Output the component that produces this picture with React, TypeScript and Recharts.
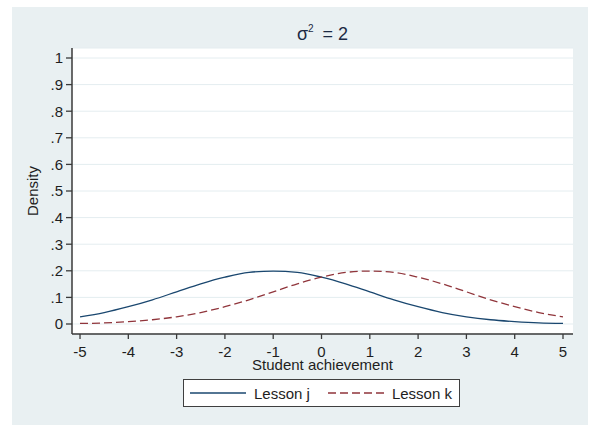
import React from 'react';
import { LineChart, Line, XAxis, YAxis, CartesianGrid, Legend } from 'recharts';

// Student achievement grid (x) and the two density curves
const achievement = [-5, -4.5, -4, -3.5, -3, -2.5, -2, -1.5, -1, -0.5, 0, 0.5, 1, 1.5, 2, 2.5, 3, 3.5, 4, 4.5, 5];
const lessonJ = [0.027, 0.043, 0.065, 0.091, 0.121, 0.151, 0.176, 0.194, 0.199, 0.194, 0.176, 0.151, 0.121, 0.091, 0.065, 0.043, 0.027, 0.016, 0.009, 0.004, 0.002];
const lessonK = [0.002, 0.004, 0.009, 0.016, 0.027, 0.043, 0.065, 0.091, 0.121, 0.151, 0.176, 0.194, 0.199, 0.194, 0.176, 0.151, 0.121, 0.091, 0.065, 0.043, 0.027];

const xTicks = [-5, -4, -3, -2, -1, 0, 1, 2, 3, 4, 5];
const yTicks = [0, 0.1, 0.2, 0.3, 0.4, 0.5, 0.6, 0.7, 0.8, 0.9, 1];
const yTickLabels = ['0', '.1', '.2', '.3', '.4', '.5', '.6', '.7', '.8', '.9', '1'];

const seriesNames = ['Lesson j', 'Lesson k'];
const seriesColors = ['#1a476f', '#90353b'];

const data = achievement.map((x, i) => ({ x, j: lessonJ[i], k: lessonK[i] }));

const FONT = '"Liberation Sans", Arial, Helvetica, sans-serif';
const AXIS = '#3a3a3a';
const TEXT = '#1e1e1e';

const yLabel = (v: number) => {
  const idx = yTicks.findIndex((t) => Math.abs(t - v) < 1e-9);
  return idx >= 0 ? yTickLabels[idx] : String(v);
};

const LegendBox = (props: any) => {
  const items = props.payload || [];
  return (
    <div
      style={{
        width: 277,
        height: 28,
        boxSizing: 'border-box',
        border: '1.5px solid #3f3f3f',
        background: '#fff',
        display: 'flex',
        alignItems: 'center',
        fontFamily: FONT,
        fontSize: 15,
        color: TEXT,
        paddingLeft: 6,
      }}
    >
      {items.map((it: any, i: number) => (
        <div key={i} style={{ display: 'flex', alignItems: 'center', marginLeft: i === 0 ? 0 : 18 }}>
          <svg width={56} height={10} style={{ display: 'block' }}>
            <line
              x1={0}
              y1={5}
              x2={56}
              y2={5}
              stroke={it.color}
              strokeWidth={1.3}
              strokeDasharray={it.payload && it.payload.strokeDasharray}
            />
          </svg>
          <span style={{ marginLeft: 8 }}>{it.value}</span>
        </div>
      ))}
    </div>
  );
};

export default function App() {
  return (
    <div style={{ position: 'absolute', left: 0, top: 0, width: 590, height: 425, background: '#fff', fontFamily: FONT }}>
      <div style={{ position: 'absolute', left: 12, top: 7, width: 576, height: 418, background: '#e9f0f2' }} />
      <div
        style={{
          position: 'absolute',
          left: 72,
          top: 22,
          width: 501,
          textAlign: 'center',
          fontSize: 18,
          lineHeight: '24px',
          color: '#1c2a44',
        }}
      >
        σ<sup style={{ fontSize: 10, verticalAlign: 8, lineHeight: 0 }}>2</sup>
        <span style={{ marginLeft: 9 }}>= 2</span>
      </div>
      <div style={{ position: 'absolute', left: 0, top: 0 }}>
        <LineChart width={590} height={425} data={data} margin={{ top: 48, right: 17, bottom: 51, left: 0 }}>
          <CartesianGrid horizontal vertical={false} stroke="#e4edf0" fill="#ffffff" />
          <XAxis
            dataKey="x"
            type="number"
            domain={[-5.166, 5.207]}
            ticks={xTicks}
            allowDataOverflow
            height={40}
            axisLine={{ stroke: AXIS, strokeWidth: 1.5 }}
            tickLine={{ stroke: AXIS, strokeWidth: 1.3 }}
            tickSize={5}
            tickMargin={7}
            tick={{ fill: TEXT, fontSize: 15, fontFamily: FONT }}
            label={{ value: 'Student achievement', position: 'insideBottom', offset: 4, fill: TEXT, fontSize: 15, fontFamily: FONT }}
          />
          <YAxis
            type="number"
            domain={[-0.0376, 1.0376]}
            ticks={yTicks}
            allowDataOverflow
            width={72}
            tickFormatter={yLabel}
            axisLine={{ stroke: AXIS, strokeWidth: 1.5 }}
            tickLine={{ stroke: AXIS, strokeWidth: 1.3 }}
            tickSize={6}
            tickMargin={3}
            tick={{ fill: TEXT, fontSize: 15, fontFamily: FONT }}
            label={{
              value: 'Density',
              angle: -90,
              position: 'insideLeft',
              offset: 33,
              fill: TEXT,
              fontSize: 15,
              fontFamily: FONT,
              style: { textAnchor: 'middle' },
            }}
          />
          <Legend
            layout="vertical"
            align="center"
            verticalAlign="middle"
            content={<LegendBox />}
            wrapperStyle={{ left: 183, top: 379, width: 277, height: 28 }}
          />
          <Line
            type="monotone"
            dataKey="j"
            name={seriesNames[0]}
            stroke={seriesColors[0]}
            strokeWidth={1.3}
            dot={false}
            activeDot={false}
            isAnimationActive={false}
          />
          <Line
            type="monotone"
            dataKey="k"
            name={seriesNames[1]}
            stroke={seriesColors[1]}
            strokeWidth={1.3}
            strokeDasharray="8 4"
            dot={false}
            activeDot={false}
            isAnimationActive={false}
          />
        </LineChart>
      </div>
    </div>
  );
}
